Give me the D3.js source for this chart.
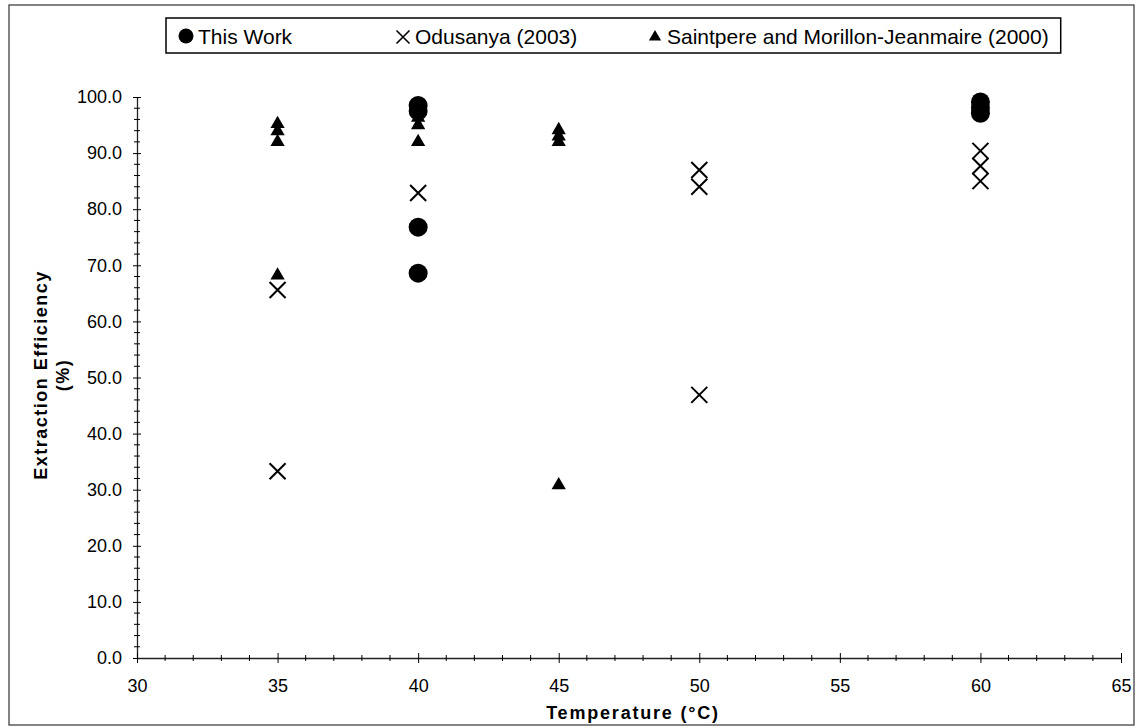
<!DOCTYPE html>
<html>
<head>
<meta charset="utf-8">
<script src="https://cdn.jsdelivr.net/npm/d3@7"></script>
<style>
  body { margin: 0; background: #fff; }
  svg { font-family: "Liberation Sans", Arial, sans-serif; }
</style>
</head>
<body>
<div id="chart"></div>
<script>
var thisWorkX = [40, 40, 40, 40, 60, 60, 60];
var thisWorkY = [98.5, 97.5, 76.8, 68.6, 99.1, 98.1, 97.1];
var odusanyaX = [35, 35, 40, 50, 50, 50, 60, 60, 60];
var odusanyaY = [65.6, 33.3, 82.9, 87.0, 84.0, 46.9, 90.4, 87.7, 85.0];
var saintpereX = [35, 35, 35, 35, 40, 40, 40, 45, 45, 45, 45];
var saintpereY = [95.2, 93.9, 92.0, 68.2, 96.3, 95.0, 92.0, 94.1, 93.0, 92.0, 30.8];
var xTicks = [30, 35, 40, 45, 50, 55, 60, 65];
var yTicks = [0, 10, 20, 30, 40, 50, 60, 70, 80, 90, 100];
var legendNames = ["This Work", "Odusanya (2003)", "Saintpere and Morillon-Jeanmaire (2000)"];

function init(){
    var w = 1137;
    var h = 728;

    var xscale = d3.scaleLinear().domain([30, 65]).range([137, 1121]);
    var yscale = d3.scaleLinear().domain([0, 100]).range([658, 97]);

    var svg = d3.select("#chart").append("svg")
                .attr("width", w)
                .attr("height", h);

    // outer frame
    svg.append("rect")
        .attr("x", 9).attr("y", 5)
        .attr("width", 1125).attr("height", 720)
        .attr("fill", "none")
        .attr("stroke", "#333")
        .attr("stroke-width", 1.2);

    // y axis
    var yAxis = d3.axisLeft(yscale)
        .tickValues(yTicks)
        .tickFormat(d3.format(".1f"))
        .tickSizeInner(4).tickSizeOuter(0).tickPadding(11);
    var gy = svg.append("g")
        .attr("transform", "translate(137,0)")
        .call(yAxis);
    gy.selectAll(".tick line").attr("x2", 4).attr("x1", -4);
    // minor y ticks every 2
    gy.selectAll(".minor")
        .data(d3.range(0, 101, 2).filter(function(d){ return d % 10 !== 0; }))
        .enter().append("line")
        .attr("x1", -3).attr("x2", 3)
        .attr("y1", function(d){ return yscale(d); })
        .attr("y2", function(d){ return yscale(d); })
        .attr("stroke", "#000");

    // x axis
    var xAxis = d3.axisBottom(xscale)
        .tickValues(xTicks)
        .tickFormat(d3.format("d"))
        .tickSizeInner(5).tickSizeOuter(0).tickPadding(16);
    var gx = svg.append("g")
        .attr("transform", "translate(0,658)")
        .call(xAxis);
    gx.selectAll(".tick line").attr("y1", -5).attr("y2", 5);
    gx.selectAll(".minor")
        .data(d3.range(30, 66, 1).filter(function(d){ return d % 5 !== 0; }))
        .enter().append("line")
        .attr("x1", function(d){ return xscale(d); })
        .attr("x2", function(d){ return xscale(d); })
        .attr("y1", -3).attr("y2", 3)
        .attr("stroke", "#000");

    svg.selectAll(".domain").attr("stroke", "#222").attr("stroke-width", 1.3);
    svg.selectAll(".tick text").style("font-size", "18px").attr("fill", "#000");

    // axis titles
    svg.append("text")
        .attr("x", 633).attr("y", 719)
        .attr("text-anchor", "middle")
        .style("font-size", "18px").style("font-weight", "bold")
        .style("letter-spacing", "1.8px")
        .text("Temperature (\u00B0C)");
    var ty = svg.append("text")
        .attr("transform", "translate(0,375) rotate(-90)")
        .attr("text-anchor", "middle")
        .style("font-size", "18px").style("font-weight", "bold")
        .style("letter-spacing", "1.5px");
    ty.append("tspan").attr("x", 0).attr("y", 47).text("Extraction Efficiency");
    ty.append("tspan").attr("x", 0).attr("y", 69).text("(%)");

    // series
    var tri = d3.symbol().type(d3.symbolTriangle).size(88);
    svg.selectAll(".saint")
        .data(saintpereX)
        .enter().append("path")
        .attr("d", tri)
        .attr("transform", function(d, i){
            return "translate(" + xscale(d) + "," + yscale(saintpereY[i]) + ")";
        })
        .attr("fill", "#000");

    svg.selectAll(".odu")
        .data(odusanyaX)
        .enter().append("path")
        .attr("d", "M-8,-8L8,8M-8,8L8,-8")
        .attr("transform", function(d, i){
            return "translate(" + xscale(d) + "," + yscale(odusanyaY[i]) + ")";
        })
        .attr("fill", "none")
        .attr("stroke", "#000")
        .attr("stroke-width", 2);

    svg.selectAll(".tw")
        .data(thisWorkX)
        .enter().append("circle")
        .attr("cx", function(d){ return xscale(d); })
        .attr("cy", function(d, i){ return yscale(thisWorkY[i]); })
        .attr("r", 9.5)
        .attr("fill", "#000");

    // legend
    var lx = [186, 403, 655];
    var lg = svg.append("g");
    var box = lg.append("rect")
        .attr("x", 166).attr("y", 18)
        .attr("height", 35)
        .attr("fill", "#fff")
        .attr("stroke", "#000")
        .attr("stroke-width", 1.5);
    lg.append("circle").attr("cx", lx[0]).attr("cy", 36).attr("r", 7.5).attr("fill", "#000");
    lg.append("path").attr("d", "M-6.5,-6.5L6.5,6.5M-6.5,6.5L6.5,-6.5")
        .attr("transform", "translate(" + lx[1] + ",37)")
        .attr("stroke", "#000").attr("stroke-width", 1.6).attr("fill", "none");
    lg.append("path").attr("d", d3.symbol().type(d3.symbolTriangle).size(65))
        .attr("transform", "translate(" + lx[2] + ",37)")
        .attr("fill", "#000");
    var lt = lg.selectAll(".lt")
        .data(legendNames)
        .enter().append("text")
        .attr("x", function(d, i){ return lx[i] + 12; })
        .attr("y", 44)
        .style("font-size", "21px")
        .text(function(d){ return d; });
    var last = lt.nodes()[2].getBBox();
    box.attr("width", last.x + last.width + 12 - 166);
}
window.onload = init;
</script>
</body>
</html>
